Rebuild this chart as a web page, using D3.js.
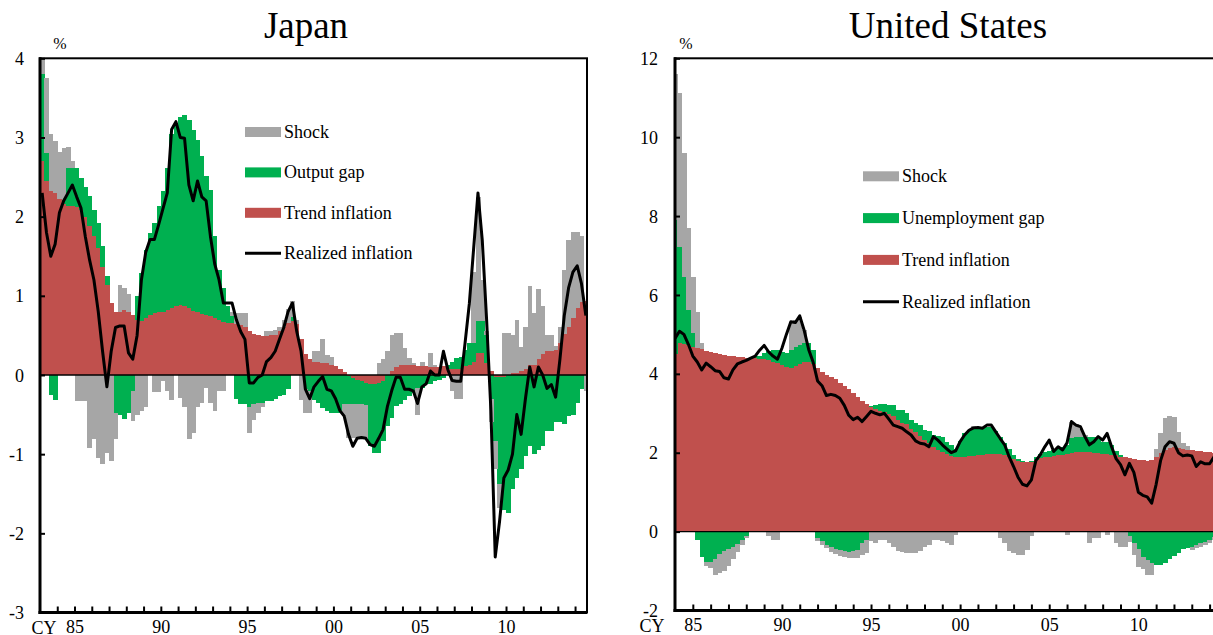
<!DOCTYPE html>
<html>
<head>
<meta charset="utf-8">
<style>
  body { margin: 0; background: #fff; }
  svg { display: block; font-family: "Liberation Serif", "Times New Roman", serif; }
  .tick line { stroke: #000; stroke-width: 2px; }
  .tick text { font-family: "Liberation Serif", "Times New Roman", serif; font-size: 18px; fill: #000; }
  .series rect { shape-rendering: crispEdges; }
</style>
</head>
<body>
<svg id="chart" width="1213" height="635"></svg>
<script src="https://d3js.org/d3.v7.min.js"></script>
<script>
// ---- Japan, quarterly 1983Q1 - 2014Q3 (contributions, %)
var jpTrend = [
  2.70, 2.45, 2.33, 2.30, 2.22, 2.16, 2.14, 2.14, 2.12, 2.08,
  2.00, 1.88, 1.75, 1.60, 1.37, 1.14, 0.91, 0.79, 0.79, 0.82,
  0.80, 0.76, 0.70, 0.68, 0.72, 0.76, 0.78, 0.79, 0.80, 0.82,
  0.84, 0.87, 0.88, 0.87, 0.84, 0.81, 0.79, 0.77, 0.76, 0.74,
  0.72, 0.69, 0.67, 0.66, 0.66, 0.65, 0.63, 0.60, 0.56, 0.52,
  0.50, 0.49, 0.49, 0.50, 0.51, 0.55, 0.60, 0.66, 0.68, 0.64,
  0.45, 0.26, 0.20, 0.17, 0.16, 0.15, 0.15, 0.13, 0.11, 0.08,
  0.04, -0.01, -0.04, -0.06, -0.08, -0.10, -0.11, -0.12, -0.10, -0.07,
  0.00, 0.05, 0.10, 0.12, 0.13, 0.13, 0.12, 0.11, 0.11, 0.11,
  0.10, 0.10, 0.10, 0.11, 0.08, 0.07, 0.07, 0.08, 0.11, 0.13,
  0.17, 0.28, 0.28, 0.15, 0.05, -0.03, -0.03, -0.02, 0.00, 0.02,
  0.03, 0.05, 0.07, 0.13, 0.13, 0.20, 0.27, 0.30, 0.30, 0.32,
  0.40, 0.52, 0.60, 0.72, 0.85, 0.92, 0.93
];
var jpGap = [
  1.10, 0.35, -0.25, -0.31, 0.00, 0.05, 0.47, 0.47, 0.49, 0.41,
  0.38, 0.38, 0.34, 0.32, 0.26, 0.11, 0.00, -0.48, -0.50, -0.56,
  -0.48, -0.20, 0.30, 0.61, 0.86, 1.03, 1.14, 1.34, 1.52, 1.79,
  2.21, 2.31, 2.38, 2.41, 2.38, 2.29, 2.18, 1.99, 1.75, 1.60,
  1.03, 0.64, 0.43, 0.21, 0.08, -0.30, -0.37, -0.37, -0.41, -0.37,
  -0.35, -0.35, -0.33, -0.33, -0.30, -0.27, -0.25, -0.18, 0.05, 0.00,
  0.00, -0.18, -0.20, -0.31, -0.35, -0.42, -0.45, -0.48, -0.48, -0.48,
  -0.37, -0.36, -0.33, -0.31, -0.29, -0.28, -0.79, -0.86, -0.88, -0.76,
  -0.65, -0.54, -0.39, -0.37, -0.31, -0.27, -0.23, -0.16, -0.16, -0.12,
  -0.12, -0.08, -0.06, -0.04, 0.05, 0.10, 0.15, 0.15, 0.21, 0.27,
  0.23, 0.40, 0.40, 0.36, -0.30, -0.80, -1.35, -1.68, -1.74, -1.44,
  -1.30, -1.19, -1.02, -0.90, -1.00, -0.95, -0.90, -0.71, -0.71, -0.60,
  -0.60, -0.62, -0.52, -0.50, -0.35, -0.18, 0.00
];
var jpShock = [
  0.20, 0.95, 0.72, 0.65, 0.60, 0.66, 0.27, 0.09, -0.33, -0.33,
  -0.33, -0.92, -0.81, -1.05, -1.13, -0.98, -1.09, -0.33, 0.35, 0.28,
  0.22, -0.38, -0.50, -0.46, -0.40, 0.00, -0.22, -0.22, -0.08, -0.20,
  -0.31, 0.00, -0.29, -0.41, -0.81, -0.73, -0.41, -0.35, -0.16, -0.35,
  -0.46, -0.20, -0.20, 0.00, 0.05, 0.13, 0.15, 0.18, -0.32, -0.20,
  -0.13, -0.05, 0.06, 0.06, 0.06, 0.06, 0.10, 0.17, 0.20, 0.05,
  -0.31, -0.30, -0.28, 0.13, 0.14, 0.30, 0.10, 0.10, 0.00, 0.00,
  -0.15, -0.42, -0.42, -0.42, -0.42, -0.41, 0.00, 0.00, 0.15, 0.20,
  0.30, 0.45, 0.43, 0.41, 0.21, 0.09, 0.03, -0.34, 0.05, 0.00,
  0.18, 0.03, 0.00, 0.00, 0.00, -0.20, -0.30, -0.30, 0.00, 0.00,
  0.90, 1.57, 0.52, 0.04, -0.30, -0.36, -0.30, 0.53, 0.53, 0.48,
  0.67, 0.30, 0.53, 0.99, 0.65, 0.88, 0.60, 0.21, 0.21, 0.05,
  0.20, 0.81, 1.11, 1.09, 0.96, 0.83, -0.20
];
var jpRealized = [
  2.30, 1.80, 1.50, 1.65, 2.05, 2.20, 2.30, 2.40, 2.25, 2.11,
  1.75, 1.45, 1.20, 0.80, 0.30, -0.15, 0.30, 0.60, 0.62, 0.62,
  0.28, 0.20, 0.50, 1.20, 1.55, 1.71, 1.71, 1.90, 2.10, 2.30,
  3.10, 3.20, 3.00, 2.99, 2.40, 2.20, 2.45, 2.25, 2.20, 1.75,
  1.40, 1.20, 0.91, 0.91, 0.91, 0.70, 0.55, 0.45, -0.10, -0.10,
  -0.03, 0.00, 0.17, 0.22, 0.30, 0.45, 0.60, 0.80, 0.91, 0.55,
  0.30, -0.18, -0.30, -0.15, -0.08, -0.02, -0.18, -0.20, -0.30, -0.45,
  -0.52, -0.75, -0.90, -0.80, -0.79, -0.80, -0.88, -0.90, -0.80, -0.69,
  -0.40, -0.20, -0.03, -0.03, -0.18, -0.18, -0.20, -0.36, -0.15, -0.11,
  0.05, 0.00, 0.00, 0.30, 0.07, -0.07, -0.08, -0.08, 0.40, 0.90,
  1.60, 2.30, 1.70, 0.70, -0.45, -2.30, -1.85, -1.30, -1.20, -1.00,
  -0.50, -0.75, -0.30, 0.10, -0.15, 0.10, 0.00, -0.17, -0.12, -0.28,
  0.20, 0.75, 1.10, 1.30, 1.38, 1.15, 0.75
];

// ---- United States, quarterly 1984Q1 - 2014Q4 (contributions, %)
var usTrend = [
  4.50, 4.77, 4.75, 4.72, 4.69, 4.65, 4.62, 4.58, 4.55, 4.52,
  4.50, 4.48, 4.46, 4.44, 4.43, 4.42, 4.41, 4.40, 4.39, 4.38,
  4.37, 4.34, 4.31, 4.28, 4.22, 4.18, 4.16, 4.20, 4.25, 4.30,
  4.30, 4.25, 4.14, 4.05, 3.98, 3.92, 3.86, 3.78, 3.70, 3.62,
  3.52, 3.42, 3.32, 3.24, 3.16, 3.10, 3.06, 3.02, 2.98, 2.92,
  2.84, 2.75, 2.72, 2.60, 2.52, 2.42, 2.32, 2.24, 2.15, 2.08,
  2.02, 1.96, 1.92, 1.90, 1.90, 1.90, 1.91, 1.92, 1.93, 1.95,
  1.96, 1.97, 1.97, 1.96, 1.94, 1.90, 1.85, 1.80, 1.77, 1.76,
  1.77, 1.82, 1.86, 1.88, 1.90, 1.92, 1.94, 1.95, 1.97, 2.00,
  2.02, 2.03, 2.03, 2.02, 2.00, 1.99, 1.98, 1.97, 1.95, 1.93,
  1.90, 1.88, 1.86, 1.84, 1.82, 1.81, 1.80, 1.82, 1.90, 2.00,
  2.07, 2.12, 2.14, 2.12, 2.10, 2.08, 2.06, 2.05, 2.04, 2.03,
  2.02, 2.00, 1.99, 1.98
];
var usGap = [
  3.40, 2.45, 1.70, 0.90, 0.34, -0.20, -0.65, -0.76, -0.76, -0.70,
  -0.58, -0.50, -0.44, -0.40, -0.32, -0.20, -0.10, 0.00, 0.05, 0.07,
  0.15, 0.24, 0.29, 0.32, 0.33, 0.34, 0.44, 0.48, 0.48, 0.47,
  0.47, 0.35, -0.15, -0.25, -0.34, -0.40, -0.44, -0.47, -0.50, -0.51,
  -0.50, -0.46, -0.30, -0.20, 0.02, 0.12, 0.18, 0.22, 0.23, 0.29,
  0.24, 0.33, 0.28, 0.23, 0.23, 0.28, 0.26, 0.31, 0.30, 0.34,
  0.38, 0.32, 0.28, 0.20, 0.40, 0.60, 0.67, 0.70, 0.69, 0.67,
  0.68, 0.67, 0.58, 0.44, 0.31, 0.20, 0.10, 0.05, 0.01, 0.00,
  0.03, 0.08, 0.12, 0.15, 0.15, 0.16, 0.18, 0.20, 0.23, 0.37,
  0.38, 0.37, 0.38, 0.39, 0.40, 0.36, 0.30, 0.31, 0.25, 0.12,
  0.05, 0.00, -0.10, -0.30, -0.45, -0.65, -0.72, -0.80, -0.85, -0.85,
  -0.80, -0.70, -0.63, -0.55, -0.45, -0.42, -0.38, -0.33, -0.30, -0.27,
  -0.20, -0.13, -0.10, -0.08
];
var usShock = [
  3.70, 3.89, 3.14, 2.09, 1.43, 0.93, 0.15, -0.10, -0.15, -0.39,
  -0.46, -0.50, -0.42, -0.30, -0.20, -0.13, -0.05, 0.00, 0.00, 0.00,
  0.00, -0.10, -0.20, -0.20, 0.00, 0.00, 0.68, 0.69, 0.72, 0.34,
  0.00, 0.00, -0.10, -0.08, -0.08, -0.12, -0.12, -0.14, -0.15, -0.17,
  -0.18, -0.20, -0.30, -0.35, -0.25, -0.30, -0.22, -0.21, -0.30, -0.40,
  -0.50, -0.51, -0.55, -0.55, -0.55, -0.50, -0.38, -0.35, -0.21, -0.21,
  -0.25, -0.30, -0.34, -0.08, 0.00, 0.00, 0.00, 0.05, 0.00, 0.00,
  0.00, 0.00, 0.00, -0.17, -0.30, -0.50, -0.55, -0.59, -0.59, -0.46,
  -0.10, 0.00, 0.00, 0.00, 0.00, 0.00, 0.00, 0.00, -0.08, 0.42,
  0.32, 0.20, 0.05, -0.30, -0.17, -0.17, 0.00, -0.08, 0.00, -0.30,
  -0.38, -0.38, -0.17, -0.29, -0.45, -0.30, -0.38, -0.30, 0.20, 0.50,
  0.80, 0.80, 0.77, 0.40, 0.14, 0.10, -0.08, -0.08, -0.08, -0.08,
  -0.08, -0.08, -0.08, -0.08
];
var usRealized = [
  4.90, 5.08, 5.00, 4.75, 4.45, 4.30, 4.10, 4.27, 4.18, 4.08,
  4.06, 3.90, 3.87, 4.10, 4.25, 4.30, 4.34, 4.40, 4.45, 4.60,
  4.72, 4.56, 4.45, 4.37, 4.65, 5.00, 5.32, 5.30, 5.47, 5.10,
  4.62, 4.30, 3.82, 3.70, 3.45, 3.48, 3.45, 3.38, 3.20, 2.95,
  2.84, 2.90, 2.79, 2.92, 3.05, 3.00, 2.96, 3.00, 2.85, 2.70,
  2.66, 2.62, 2.53, 2.45, 2.30, 2.24, 2.22, 2.15, 2.41, 2.32,
  2.20, 2.10, 2.00, 2.05, 2.28, 2.45, 2.57, 2.63, 2.64, 2.62,
  2.70, 2.70, 2.53, 2.36, 2.20, 1.90, 1.65, 1.38, 1.20, 1.16,
  1.31, 1.80, 1.95, 2.15, 2.32, 2.03, 2.15, 2.07, 2.25, 2.79,
  2.70, 2.66, 2.41, 2.20, 2.28, 2.41, 2.32, 2.49, 2.15, 1.85,
  1.70, 1.44, 1.73, 1.50, 1.00, 0.92, 0.88, 0.72, 1.20, 1.80,
  2.15, 2.28, 2.24, 2.00, 1.92, 1.94, 1.92, 1.65, 1.77, 1.72,
  1.72, 1.90, 1.95, 1.90
];

var yearLabels = {1985: "85", 1990: "90", 1995: "95", 2000: "00", 2005: "05", 2010: "10"};
var jpLegend = ["Shock", "Output gap", "Trend inflation", "Realized inflation"];
var usLegend = ["Shock", "Unemployment gap", "Trend inflation", "Realized inflation"];

var keys = ["trend", "gap", "shock"];
var colors = {trend: "#c0504d", gap: "#00b050", shock: "#a6a6a6"};
var serif = "'Liberation Serif', 'Times New Roman', serif";

function quarters(startYear, n) {
  return d3.range(n).map(function(i){ return (startYear + Math.floor(i / 4)) + "Q" + (i % 4 + 1); });
}

var svg = d3.select("#chart");

function drawPanel(p) {
  var cats = quarters(p.startYear, p.trend.length);
  var rows = cats.map(function(c, i){
    return {q: c, trend: p.trend[i], gap: p.gap[i], shock: p.shock[i], real: p.real[i]};
  });

  var x = d3.scaleBand().domain(cats).range(p.bandRange).paddingInner(0).paddingOuter(0);
  var t = d3.scaleLinear().domain(p.timeDomain).range(p.bandRange);
  var y = d3.scaleLinear().domain(p.yDomain).range([p.bottom, p.top]);

  var g = svg.append("g");

  g.append("clipPath").attr("id", p.id + "-clip")
    .append("rect")
      .attr("x", p.left).attr("y", p.top)
      .attr("width", p.right - p.left).attr("height", p.bottom - p.top);

  var plot = g.append("g").attr("clip-path", "url(#" + p.id + "-clip)");

  var series = d3.stack().keys(keys).offset(d3.stackOffsetDiverging)(rows);

  plot.selectAll("g.series")
      .data(series)
    .join("g")
      .attr("class", "series")
      .attr("fill", function(s){ return colors[s.key]; })
    .selectAll("rect")
      .data(function(s){ return s; })
    .join("rect")
      .attr("x", function(d){ return x(d.data.q); })
      .attr("width", x.bandwidth() + 0.5)
      .attr("y", function(d){ return y(Math.max(d[0], d[1])); })
      .attr("height", function(d){ return Math.abs(y(d[0]) - y(d[1])); });

  // zero line
  plot.append("line")
      .attr("x1", p.left).attr("x2", p.right)
      .attr("y1", y(0)).attr("y2", y(0))
      .attr("stroke", "#000").attr("stroke-width", 1.3);

  var line = d3.line()
      .x(function(d){ return x(d.q) + x.bandwidth() / 2; })
      .y(function(d){ return y(d.real); });

  plot.append("path")
      .datum(rows)
      .attr("d", line)
      .attr("fill", "none")
      .attr("stroke", "#000")
      .attr("stroke-width", 3)
      .attr("stroke-linejoin", "round");

  // frame
  g.append("rect")
      .attr("x", p.left).attr("y", p.top)
      .attr("width", p.right - p.left).attr("height", p.bottom - p.top)
      .attr("fill", "none").attr("stroke", "#000").attr("stroke-width", 2);
  g.append("line")
      .attr("x1", p.left).attr("x2", p.left).attr("y1", p.top - 1).attr("y2", p.bottom + 1.5)
      .attr("stroke", "#000").attr("stroke-width", 3);
  g.append("line")
      .attr("x1", p.left - 1.5).attr("x2", p.right).attr("y1", p.bottom).attr("y2", p.bottom)
      .attr("stroke", "#000").attr("stroke-width", 3);

  // axes
  var yAxis = d3.axisLeft(y)
      .tickValues(p.yTicks)
      .tickSize(-5)
      .tickPadding(p.yPad)
      .tickFormat(function(d){ return String(d); });
  g.append("g")
      .attr("transform", "translate(" + p.left + ",0)")
      .call(yAxis)
      .attr("font-family", serif)
      .attr("font-size", 18)
      .call(function(a){ a.select(".domain").remove(); })
      .selectAll("text").attr("dy", "0.34em");

  var xAxis = d3.axisBottom(t)
      .tickValues(d3.range(p.firstTick, 2015))
      .tickSize(-6)
      .tickPadding(8)
      .tickFormat(function(d){ return yearLabels[d] || ""; });
  g.append("g")
      .attr("transform", "translate(0," + p.bottom + ")")
      .call(xAxis)
      .attr("font-family", serif)
      .attr("font-size", 18)
      .call(function(a){ a.select(".domain").remove(); });

  g.append("text")
      .attr("x", p.cyX).attr("y", p.bottom + 9)
      .attr("dy", "0.71em")
      .attr("text-anchor", "middle")
      .style("font-size", "18px")
      .text("CY");

  g.append("text")
      .attr("x", p.pctX).attr("y", 49)
      .attr("text-anchor", "middle")
      .style("font-size", "16px")
      .text("%");

  g.append("text")
      .attr("x", p.titleX).attr("y", 38)
      .attr("text-anchor", "middle")
      .style("font-size", "37px")
      .text(p.title);

  // legend
  var lg = g.append("g").attr("transform", "translate(" + p.legend.x + "," + p.legend.y + ")");
  var swatchKeys = ["shock", "gap", "trend"];
  p.legend.labels.forEach(function(label, i){
    var cy = i * p.legend.gap;
    if (i < 3) {
      lg.append("rect")
          .attr("x", 0).attr("y", cy - 5)
          .attr("width", 36).attr("height", 10)
          .attr("fill", colors[swatchKeys[i]]);
    } else {
      lg.append("line")
          .attr("x1", 0).attr("x2", 36).attr("y1", cy).attr("y2", cy)
          .attr("stroke", "#000").attr("stroke-width", 3);
    }
    lg.append("text")
        .attr("x", 39).attr("y", cy + 6)
        .style("font-size", "18px")
        .text(label);
  });
}

drawPanel({
  id: "jp", title: "Japan", titleX: 306,
  startYear: 1983,
  trend: jpTrend, gap: jpGap, shock: jpShock, real: jpRealized,
  left: 40, right: 587, top: 58.3, bottom: 612.5,
  bandRange: [40, 588], timeDomain: [1983, 1983 + 127 / 4],
  yDomain: [-3, 4], yTicks: d3.range(-3, 5), yPad: 16,
  firstTick: 1984, cyX: 44, pctX: 60,
  legend: {x: 245, y: 132, gap: 40.4, labels: jpLegend}
});

drawPanel({
  id: "us", title: "United States", titleX: 948,
  startYear: 1984,
  trend: usTrend, gap: usGap, shock: usShock, real: usRealized,
  left: 675, right: 1224, top: 58.3, bottom: 610.5,
  bandRange: [675 - 4.455 / 2, 675 + 4.455 * 123.5], timeDomain: [1984 - 0.125, 1984 - 0.125 + 124 / 4],
  yDomain: [-2, 12], yTicks: d3.range(-2, 13, 2), yPad: 17,
  firstTick: 1985, cyX: 652, pctX: 686,
  legend: {x: 863, y: 176.3, gap: 41.8, labels: usLegend}
});
</script>
</body>
</html>
